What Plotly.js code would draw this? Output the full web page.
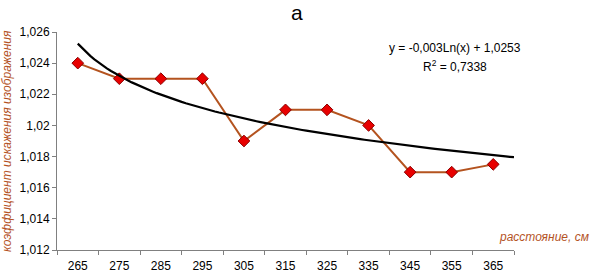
<!DOCTYPE html>
<html><head><meta charset="utf-8">
<script src="https://cdn.plot.ly/plotly-3.0.1.min.js"></script>
<style>body{margin:0;background:#fff}#c{width:592px;height:272px}</style>
</head><body><div id="c"></div>
<script>
const categories = ["265","275","285","295","305","315","325","335","345","355","365"];
const values = [1.024,1.023,1.023,1.023,1.019,1.021,1.021,1.020,1.017,1.017,1.0175];
const yTickVals = [1.012,1.014,1.016,1.018,1.02,1.022,1.024,1.026];
const yTickText = ["1,012","1,014","1,016","1,018","1,02","1,022","1,024","1,026"];

const xs = categories.map((_, i) => i + 1);
// least-squares logarithmic trendline fitted to the data (as in the spreadsheet)
const lx = xs.map(Math.log);
const n = xs.length;
const mL = lx.reduce((a,b)=>a+b,0)/n, mY = values.reduce((a,b)=>a+b,0)/n;
let sxy=0, sxx=0;
for (let i=0;i<n;i++){ sxy+=(lx[i]-mL)*(values[i]-mY); sxx+=(lx[i]-mL)**2; }
const slope = sxy/sxx, icpt = mY - slope*mL;
const tx=[], ty=[];
for (let k=0;k<=105;k++){ const x=1+k*0.1; tx.push(x); ty.push(icpt+slope*Math.log(x)); }

const brown = '#b4531f';
const data = [
 {x: xs, y: values, type:'scatter', mode:'lines+markers',
  line:{color:brown, width:2},
  marker:{symbol:'diamond', size:9, color:'#e80000', line:{color:'#8b0000', width:1}},
  hoverinfo:'skip'},
 {x: tx, y: ty, type:'scatter', mode:'lines', line:{color:'#000', width:2.2}, hoverinfo:'skip'}
];
const layout = {
 width:592, height:272, showlegend:false,
 margin:{l:57, r:78, t:32, b:22},
 paper_bgcolor:'#fff', plot_bgcolor:'#fff',
 font:{family:'Liberation Sans, Arial, sans-serif', size:12, color:'#000'},
 xaxis:{range:[0.5,11.5], tickvals:xs, ticktext:categories, showgrid:false, zeroline:false,
   showline:true, linecolor:'#808080', linewidth:1, ticks:'', tickfont:{size:12},
   ticklabelstandoff:5, fixedrange:true},
 xaxis2:{range:[0.5,11.5], overlaying:'x', tickvals:[0.5,1.5,2.5,3.5,4.5,5.5,6.5,7.5,8.5,9.5,10.5,11.5],
   showticklabels:false, ticks:'outside', ticklen:4, tickcolor:'#808080', showgrid:false, zeroline:false, anchor:'y'},
 yaxis:{range:[1.012,1.026], tickvals:yTickVals, ticktext:yTickText, showgrid:false, zeroline:false,
   showline:true, linecolor:'#808080', linewidth:1, ticks:'outside', ticklen:4, tickcolor:'#808080',
   tickfont:{size:12}, fixedrange:true},
 annotations:[
  {text:'a', xref:'paper', yref:'paper', x:0.526, y:1, yshift:33, xanchor:'center', yanchor:'top', showarrow:false,
   font:{size:21}},
  {text:'y = -0,003Ln(x) + 1,0253', xref:'paper', yref:'paper', x:0.871, y:0.925, xanchor:'center', yanchor:'middle', showarrow:false, font:{size:12}},
  {text:'R<sup>2</sup> = 0,7338', xref:'paper', yref:'paper', x:0.871, y:0.845, xanchor:'center', yanchor:'middle', showarrow:false, font:{size:12}},
  {text:'<i>коэффициент искажения изображения</i>', xref:'paper', yref:'paper', x:0, xshift:-50, y:0.5, xanchor:'center', yanchor:'middle',
   textangle:-90, showarrow:false, font:{size:12, color:brown}},
  {text:'<i>расстояние, см</i>', xref:'paper', yref:'paper', x:1, xshift:77, y:0.06, xanchor:'right', yanchor:'middle', showarrow:false, font:{size:12, color:brown}}
 ]
};
data.push({x:[1], y:[1.012], xaxis:'x2', yaxis:'y', mode:'markers', marker:{opacity:0}, hoverinfo:'skip'});
Plotly.newPlot('c', data, layout, {displayModeBar:false, staticPlot:true});
</script></body></html>
